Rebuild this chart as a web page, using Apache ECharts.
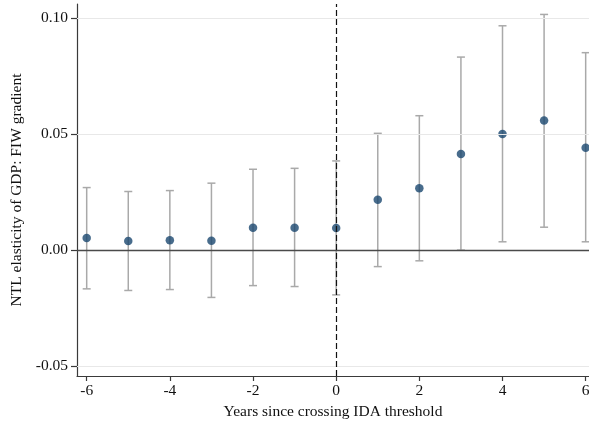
<!DOCTYPE html>
<html>
<head>
<meta charset="utf-8">
<script src="https://cdn.jsdelivr.net/npm/echarts@6/dist/echarts.min.js"></script>
<style>
  html, body { margin: 0; padding: 0; background: #fff; }
  #chart { width: 589px; height: 422px; }
</style>
</head>
<body>
<div id="chart"></div>
<script>
// Event-study estimates: years relative to crossing the IDA threshold
const years  = [-6, -5, -4, -3, -2, -1, 0, 1, 2, 3, 4, 5, 6];
const coef   = [0.0052, 0.0039, 0.0043, 0.0041, 0.0097, 0.0097, 0.0096, 0.0217, 0.0267, 0.0415, 0.0501, 0.0559, 0.0442];
const ciLow  = [-0.0167, -0.0174, -0.0170, -0.0204, -0.0153, -0.0157, -0.0193, -0.0071, -0.0046, 0.0000, 0.0036, 0.0099, 0.0036];
const ciHigh = [0.0270, 0.0253, 0.0257, 0.0289, 0.0349, 0.0353, 0.0385, 0.0504, 0.0580, 0.0833, 0.0968, 0.1017, 0.0852];

const xTicks = [-6, -4, -2, 0, 2, 4, 6];
const yTicks = [-0.05, 0, 0.05, 0.10];
const eventYear = 0;

const FONT = '"Liberation Serif", "Times New Roman", serif';
const AXIS_COLOR = '#3a3a3a';

const chart = echarts.init(document.getElementById('chart'), null, { renderer: 'canvas' });

const pointData = years.map((y, i) => [y, coef[i]]);
const barData = years.map((y, i) => [y, ciLow[i], ciHigh[i]]);

chart.setOption({
  animation: false,
  backgroundColor: '#fff',
  textStyle: { fontFamily: FONT },
  grid: { left: 77, right: 0, top: 4, bottom: 46, containLabel: false, outerBoundsMode: 'none' },
  xAxis: {
    type: 'value',
    min: -6.233,
    max: 6.08,
    name: 'Years since crossing IDA threshold',
    nameLocation: 'middle',
    nameGap: 26,
    nameTextStyle: { fontFamily: FONT, fontSize: 15.5, color: '#111', verticalAlign: 'top' },
    axisLine: { show: true, onZero: false, lineStyle: { color: AXIS_COLOR, width: 1.2 } },
    axisTick: { show: true, customValues: xTicks, length: 5, lineStyle: { color: AXIS_COLOR, width: 1.2 } },
    axisLabel: { customValues: xTicks, margin: 7, fontFamily: FONT, fontSize: 15.5, color: '#111',
                 formatter: v => String(v) },
    splitLine: { show: false }
  },
  yAxis: {
    type: 'value',
    min: -0.0543,
    max: 0.1062,
    name: 'NTL elasticity of GDP: FIW gradient',
    nameLocation: 'middle',
    nameGap: 52,
    nameTextStyle: { fontFamily: FONT, fontSize: 15.5, color: '#111' },
    axisLine: { show: true, onZero: false, lineStyle: { color: AXIS_COLOR, width: 1.2 } },
    axisTick: { show: true, customValues: yTicks, length: 6, lineStyle: { color: AXIS_COLOR, width: 1.2 } },
    axisLabel: { customValues: yTicks, margin: 9, fontFamily: FONT, fontSize: 15.5, color: '#111',
                 formatter: v => v.toFixed(2) },
    splitLine: { show: false }
  },
  series: [
    {
      // reference lines: light gridlines, zero line, event-year divider
      type: 'line',
      data: [],
      z: 1,
      silent: true,
      markLine: {
        silent: true,
        symbol: 'none',
        label: { show: false },
        animation: false,
        data: [
          ...yTicks.filter(t => t !== 0).map(t => ({ yAxis: t, lineStyle: { color: '#e8e8e8', width: 1.2, type: 'solid' } })),
          { yAxis: 0, lineStyle: { color: '#4a4a4a', width: 1.3, type: 'solid' } },
          { xAxis: eventYear, lineStyle: { color: '#111', width: 1.2, type: [6, 3] } }
        ]
      }
    },
    {
      // 95% confidence intervals with caps
      type: 'custom',
      z: 2,
      data: barData,
      encode: { x: 0, y: [1, 2] },
      renderItem: (params, api) => {
        const x = api.value(0);
        const lo = api.coord([x, api.value(1)]);
        const hi = api.coord([x, api.value(2)]);
        const hw = 4;
        const style = { stroke: '#a9a9a9', lineWidth: 1.5 };
        return {
          type: 'group',
          children: [
            { type: 'line', shape: { x1: lo[0], y1: lo[1], x2: hi[0], y2: hi[1] }, style },
            { type: 'line', shape: { x1: hi[0] - hw, y1: hi[1], x2: hi[0] + hw, y2: hi[1] }, style },
            { type: 'line', shape: { x1: lo[0] - hw, y1: lo[1], x2: lo[0] + hw, y2: lo[1] }, style }
          ]
        };
      }
    },
    {
      // point estimates
      type: 'scatter',
      z: 3,
      data: pointData,
      symbol: 'circle',
      symbolSize: 8.5,
      itemStyle: { color: '#1a476f' }
    }
  ]
});
</script>
</body>
</html>
